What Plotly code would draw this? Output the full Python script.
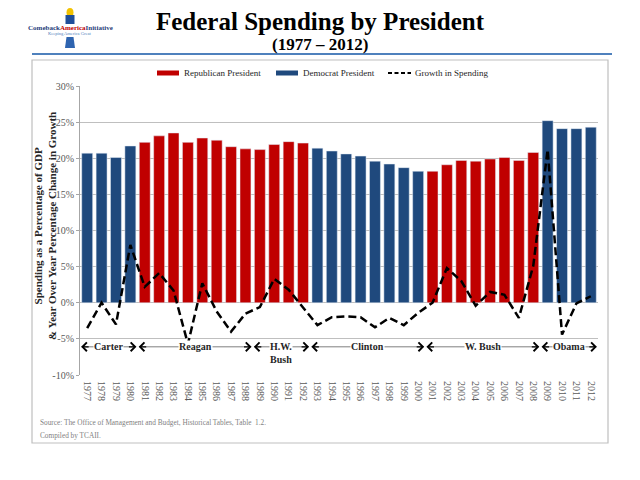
import plotly.graph_objects as go

# data (OMB Historical Tables, Table 1.2)
years = list(range(1977, 2013))
spending_pct_gdp = [20.7, 20.7, 20.1, 21.7, 22.2, 23.1, 23.5, 22.2, 22.8, 22.5,
                    21.6, 21.3, 21.2, 21.9, 22.3, 22.1, 21.4, 21.0, 20.6, 20.3,
                    19.6, 19.2, 18.7, 18.2, 18.2, 19.1, 19.7, 19.6, 19.9, 20.1,
                    19.7, 20.8, 25.2, 24.1, 24.1, 24.3]
growth_pct = [-3.5, 0.0, -3.0, 8.0, 2.2, 4.1, 1.7, -5.7, 2.7, -1.2,
              -4.0, -1.5, -0.6, 3.3, 1.8, -0.7, -3.1, -2.0, -1.9, -2.0,
              -3.4, -2.1, -3.1, -1.4, 0.0, 4.8, 3.0, -0.4, 1.5, 1.1,
              -2.1, 5.1, 21.2, -4.4, -0.1, 0.9]
presidents = ["Carter", "Reagan", "H.W.<br>Bush", "Clinton", "W. Bush", "Obama"]
term_start = [1977, 1981, 1989, 1993, 2001, 2009]
term_end = [1980, 1988, 1992, 2000, 2008, 2012]
party = ["D", "R", "R", "D", "R", "D"]
y_ticks = [-10, -5, 0, 5, 10, 15, 20, 25, 30]

RED = "#C00000"
BLUE = "#1F497D"
SERIF = "Liberation Serif"

# party of each year
year_party = []
for y in years:
    for s, e, p in zip(term_start, term_end, party):
        if s <= y <= e:
            year_party.append(p)

rep_x = [y for y, p in zip(years, year_party) if p == "R"]
rep_y = [v for v, p in zip(spending_pct_gdp, year_party) if p == "R"]
dem_x = [y for y, p in zip(years, year_party) if p == "D"]
dem_y = [v for v, p in zip(spending_pct_gdp, year_party) if p == "D"]

# plot area in pixels, used to place the decorations around it
L, R, T, B = 80, 598, 86, 375


def px(x):
    return (x - L) / (R - L)


def py(y):
    return (B - y) / (B - T)


def note(x, y, text, size, color="#262626", xanchor="center", **kw):
    return dict(xref="paper", yref="paper", x=px(x), y=py(y), xanchor=xanchor,
                yanchor="middle", showarrow=False, text=text,
                font=dict(family=SERIF, size=size, color=color), **kw)


fig = go.Figure()
fig.add_trace(go.Bar(x=rep_x, y=rep_y, name="Republican President",
                     marker_color=RED, width=0.76, showlegend=False))
fig.add_trace(go.Bar(x=dem_x, y=dem_y, name="Democrat President",
                     marker_color=BLUE, width=0.76, showlegend=False))
fig.add_trace(go.Scatter(x=years, y=growth_pct, name="Growth in Spending", mode="lines",
                         line=dict(color="black", width=2.5, dash="8px,4px"),
                         showlegend=False))

shapes = []
annotations = []

# frame and blue rule under the title
shapes.append(dict(type="rect", xref="paper", yref="paper", x0=px(32), x1=px(608),
                   y0=py(443), y1=py(60), line=dict(color="#BFBFBF", width=1.2), layer="below"))
shapes.append(dict(type="line", xref="paper", yref="paper", x0=px(32), x1=px(612),
                   y0=py(54), y1=py(54), line=dict(color="#4F81BD", width=2)))

# logo (rough)
shapes.append(dict(type="circle", xref="paper", yref="paper", x0=px(66.5), x1=px(73.5),
                   y0=py(17), y1=py(8), fillcolor="#F2C200", line_width=0))
shapes.append(dict(type="rect", xref="paper", yref="paper", x0=px(65.5), x1=px(74.5),
                   y0=py(24), y1=py(15), fillcolor="#1F4E9A", line_width=0))
shapes.append(dict(type="path", xref="paper", yref="paper",
                   path="M %f %f L %f %f L %f %f L %f %f Z" % (
                       px(66.5), py(37), px(73.5), py(37), px(75), py(48), px(65), py(48)),
                   fillcolor="#2E64B0", line_width=0))
annotations.append(note(70, 28.5, "<b><span style='color:#1F3D7A'>Comeback</span>"
                                  "<span style='color:#C00000'>America</span>"
                                  "<span style='color:#1F3D7A'>Initiative</span></b>", 7))
annotations.append(note(69, 33.5, "Keeping America Great", 4.5, color="#4F81BD"))

# titles
annotations.append(note(320, 21, "<b>Federal Spending by President</b>", 25, color="black"))
annotations.append(note(320, 44, "<b>(1977 – 2012)</b>", 17, color="black"))

# legend drawn by hand (wide swatches as in the original)
leg_items = [("Republican President", "bar", RED, 157),
             ("Democrat President", "bar", BLUE, 276),
             ("Growth in Spending", "dash", "black", 388)]
for label, kind, color, x0 in leg_items:
    if kind == "bar":
        shapes.append(dict(type="rect", xref="paper", yref="paper", x0=px(x0), x1=px(x0 + 22),
                           y0=py(75.5), y1=py(70.5), fillcolor=color, line_width=0))
    else:
        shapes.append(dict(type="line", xref="paper", yref="paper", x0=px(x0), x1=px(x0 + 23),
                           y0=py(73), y1=py(73), line=dict(color=color, width=2, dash="4px,2.5px")))
    annotations.append(note(x0 + 25, 73.5, label, 9, xanchor="left"))

# y axis title
annotations.append(note(45, 226, "<b>Spending as a Percentage of GDP<br>"
                                 "& Year Over Year Percentage Change in Growth</b>", 11,
                        textangle=-90))

# president terms with arrows
row_y = -6.1
for name, s, e in zip(presidents, term_start, term_end):
    left, right = s - 0.5, e + 0.5
    mid = (left + right) / 2
    shapes.append(dict(type="line", xref="x", yref="y", x0=left + 0.1, x1=right - 0.1,
                       y0=row_y, y1=row_y, line=dict(color="#7F7F7F", width=1)))
    annotations.append(dict(xref="x", yref="y", x=left + 0.08, y=row_y, ax=9, ay=0,
                            text="", showarrow=True, arrowhead=4, arrowsize=1.3,
                            arrowwidth=1.3, arrowcolor="black"))
    annotations.append(dict(xref="x", yref="y", x=right - 0.08, y=row_y, ax=-9, ay=0,
                            text="", showarrow=True, arrowhead=4, arrowsize=1.3,
                            arrowwidth=1.3, arrowcolor="black"))
    two_lines = "<br>" in name
    annotations.append(dict(xref="x", yref="y", x=mid, y=row_y, xanchor="center",
                            yanchor="top" if two_lines else "middle",
                            yshift=7 if two_lines else 0,
                            showarrow=False, text="<b>" + name + "</b>", bgcolor="white",
                            borderpad=0,
                            font=dict(family=SERIF, size=10, color="#262626")))

# source note
annotations.append(note(38, 422, "Source: The Office of Management and Budget, Historical Tables, Table  1.2.",
                        7.3, color="#7F7F7F", xanchor="left"))
annotations.append(note(38, 435, "Compiled by TCAII.", 7.3, color="#7F7F7F", xanchor="left"))

fig.update_layout(
    width=640, height=480,
    margin=dict(l=L, r=640 - R, t=T, b=480 - B),
    paper_bgcolor="white", plot_bgcolor="white",
    barmode="overlay", bargap=0.2,
    shapes=shapes, annotations=annotations,
    xaxis=dict(range=[1976.5, 2012.5], tickvals=years, ticktext=[str(y) for y in years],
               tickangle=90, showgrid=False, zeroline=False, showline=False, ticks="",
               ticklabelstandoff=5,
               tickfont=dict(family=SERIF, size=10, color="#595959")),
    yaxis=dict(range=[-10, 30], tickvals=y_ticks, ticktext=[str(v) + "%" for v in y_ticks],
               showgrid=True, gridcolor="#BFBFBF", gridwidth=1, zeroline=False,
               showline=True, linecolor="#A6A6A6", ticks="outside", ticklen=3,
               tickcolor="#A6A6A6",
               tickfont=dict(family=SERIF, size=10, color="#595959")),
)

# page body margin would push the fixed-size figure 8px off; drop it
fig.write_html("out.html", config={"displayModeBar": False},
               post_script="document.body.style.margin='0px';")
